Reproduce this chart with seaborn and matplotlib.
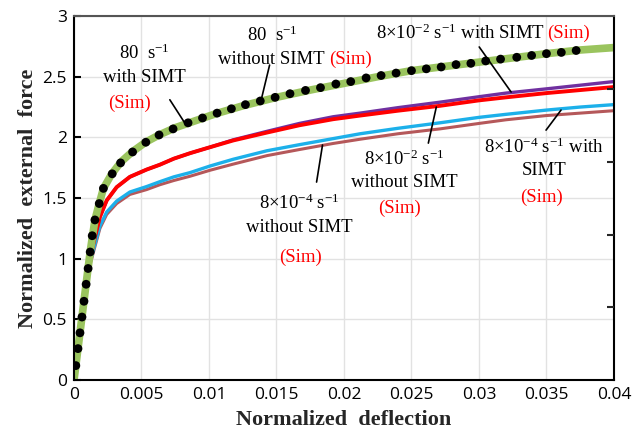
import matplotlib
matplotlib.use("Agg")
import matplotlib.pyplot as plt
import seaborn as sns
import numpy as np

# ---------------- data ----------------
x_curve = [0, 0.0006, 0.0011, 0.00131, 0.00155, 0.00192, 0.00242, 0.00316, 0.00414,
           0.00538, 0.00636, 0.0074, 0.0086, 0.0101, 0.0118, 0.0143, 0.0167, 0.0192,
           0.0212, 0.0240, 0.0271, 0.0300, 0.0320, 0.0350, 0.0375, 0.0400]
red_8e2_without = [0, 0.53, 0.95, 1.06, 1.18, 1.345, 1.48, 1.59, 1.675, 1.735, 1.775, 1.825,
                   1.87, 1.92, 1.975, 2.04, 2.10, 2.15, 2.18, 2.22, 2.26, 2.305, 2.33,
                   2.365, 2.39, 2.415]
purple_8e2_with = [0, 0.53, 0.95, 1.06, 1.18, 1.345, 1.48, 1.59, 1.675, 1.735, 1.775, 1.825,
                   1.87, 1.92, 1.98, 2.05, 2.115, 2.17, 2.20, 2.245, 2.29, 2.335, 2.365,
                   2.40, 2.43, 2.46]
cyan_8e4_with = [0, 0.53, 0.93, 1.02, 1.12, 1.27, 1.385, 1.475, 1.55, 1.595, 1.635, 1.675,
                 1.71, 1.765, 1.82, 1.89, 1.94, 1.99, 2.03, 2.075, 2.12, 2.165, 2.19,
                 2.225, 2.25, 2.27]
brown_8e4_without = [0, 0.52, 0.92, 1.00, 1.10, 1.25, 1.365, 1.455, 1.53, 1.57, 1.61, 1.645,
                     1.68, 1.73, 1.78, 1.85, 1.90, 1.95, 1.985, 2.03, 2.07, 2.115, 2.145,
                     2.18, 2.20, 2.22]

x_green = [0, 0.0006, 0.0012, 0.00155, 0.00187, 0.00218, 0.0028, 0.0035, 0.0043, 0.0053,
           0.0063, 0.0075, 0.0088, 0.0105, 0.0125, 0.015, 0.0175, 0.02, 0.0225, 0.025,
           0.0275, 0.03, 0.0325, 0.035, 0.0375, 0.04]
green_80_with = [0, 0.53, 1.06, 1.32, 1.455, 1.58, 1.70, 1.80, 1.88, 1.96, 2.02, 2.08, 2.13,
                 2.195, 2.26, 2.33, 2.39, 2.445, 2.50, 2.55, 2.585, 2.62, 2.655, 2.69, 2.72,
                 2.74]

x_dots = [0.000136, 0.000295, 0.000443, 0.000591, 0.000739, 0.000898, 0.001045, 0.0012,
          0.00135, 0.00155, 0.00187, 0.00218, 0.00283, 0.00345, 0.00434, 0.00532, 0.0063,
          0.00734, 0.00845, 0.00952, 0.0106, 0.01166, 0.0127, 0.0138, 0.0149, 0.016,
          0.01715, 0.01826, 0.0194, 0.0205, 0.02164, 0.02275, 0.02386, 0.025, 0.0261,
          0.0272, 0.0283, 0.0294, 0.0305, 0.0316, 0.0328, 0.0339, 0.035, 0.0361, 0.0372]
dots_80_without = [0.12, 0.26, 0.39, 0.52, 0.65, 0.79, 0.92, 1.056, 1.19, 1.32, 1.455, 1.58,
                   1.70, 1.79, 1.88, 1.96, 2.02, 2.07, 2.12, 2.16, 2.20, 2.236, 2.27, 2.30,
                   2.33, 2.36, 2.387, 2.41, 2.44, 2.46, 2.49, 2.51, 2.53, 2.55, 2.565, 2.58,
                   2.60, 2.61, 2.63, 2.645, 2.66, 2.675, 2.69, 2.70, 2.716]

x_ticks = [0, 0.005, 0.01, 0.015, 0.02, 0.025, 0.03, 0.035, 0.04]
x_tick_labels = ["0", "0.005", "0.01", "0.015", "0.02", "0.025", "0.03", "0.035", "0.04"]
y_ticks = [0, 0.5, 1, 1.5, 2, 2.5, 3]
y_tick_labels = ["0", "0.5", "1", "1.5", "2", "2.5", "3"]

# ---------------- style ----------------
sns.set_style("white")
plt.rcParams["mathtext.fontset"] = "custom"
plt.rcParams["mathtext.rm"] = "Liberation Serif"
plt.rcParams["mathtext.it"] = "Liberation Serif:italic"
plt.rcParams["mathtext.bf"] = "Liberation Serif:bold"
plt.rcParams["font.family"] = ["Open Sans", "DejaVu Sans"]

fig = plt.figure(figsize=(6.39, 4.40), dpi=100)
ax = fig.add_axes([0.1158, 0.136, 0.845, 0.8276])

c_green = "#9ac45e"
c_red = "#ff0000"
c_purple = "#7030a0"
c_cyan = "#1cb0ea"
c_brown = "#b5585a"

sns.lineplot(x=x_curve, y=brown_8e4_without, ax=ax, color=c_brown, lw=2.2, estimator=None)
sns.lineplot(x=x_curve, y=cyan_8e4_with, ax=ax, color=c_cyan, lw=2.4, estimator=None)
sns.lineplot(x=x_curve, y=purple_8e2_with, ax=ax, color=c_purple, lw=2.4, estimator=None)
sns.lineplot(x=x_curve, y=red_8e2_without, ax=ax, color=c_red, lw=2.8, estimator=None)
sns.lineplot(x=x_green, y=green_80_with, ax=ax, color=c_green, lw=5.5, estimator=None)
sns.scatterplot(x=x_dots, y=dots_80_without, ax=ax, color="black", s=40, edgecolor="none",
                zorder=5)

ax.set_xlim(0, 0.04)
ax.set_ylim(0, 3)
ax.set_xticks(x_ticks)
ax.set_xticklabels(x_tick_labels)
ax.set_yticks(y_ticks)
ax.set_yticklabels(y_tick_labels)
ax.grid(True, color="#e2e2e2", lw=1.0)
ax.set_axisbelow(True)
ax.tick_params(axis="both", direction="in", length=5, width=1.5, labelsize=12.5,
               colors="black", pad=5)
for sp in ax.spines.values():
    sp.set_visible(True)
    sp.set_color("black")
    sp.set_linewidth(1.5)
ax.spines["top"].set_color("#555555")

# right-side ticks
ax2 = ax.twinx()
ax2.set_ylim(0, 3)
ax2.set_yticks([0.6, 1.2, 1.8, 2.4])
ax2.tick_params(axis="y", direction="in", length=5, width=1.5, labelright=False)
for sp in ax2.spines.values():
    sp.set_visible(False)

serif = "Liberation Serif"
ax.set_xlabel("Normalized  deflection", fontfamily=serif, fontweight="bold", fontsize=16,
              labelpad=5)
ax.set_ylabel("Normalized  external  force", fontfamily=serif, fontweight="bold",
              fontsize=16, labelpad=3)

fs = 13.5
def t(x, y, s, color="black", ha="center"):
    ax.text(x, y, s, fontfamily=serif, fontsize=fs, color=color, ha=ha, va="center",
            zorder=10)

def leader(x0, y0, x1, y1):
    ax.plot([x0, x1], [y0, y1], color="black", lw=1.2, zorder=6)

# 80 s-1 with SIMT
t(0.00525, 2.69, r"80  s$^{-1}$")
t(0.00525, 2.49, "with SIMT")
t(0.00414, 2.28, "(Sim)", color="red")
leader(0.0071, 2.31, 0.0082, 2.12)

# 80 s-1 without SIMT
t(0.01471, 2.84, r"80  s$^{-1}$")
t(0.01464, 2.645, "without SIMT")
t(0.01893, 2.645, "(Sim)", color="red", ha="left")
leader(0.01449, 2.596, 0.0139, 2.324)

# 8e-2 with SIMT
t(0.0224, 2.86, r"8×10$^{-2}$ s$^{-1}$ with SIMT", ha="left")
t(0.03505, 2.86, "(Sim)", color="red", ha="left")
leader(0.03002, 2.745, 0.03238, 2.374)

# 8e-2 without SIMT
t(0.02447, 1.82, r"8×10$^{-2}$ s$^{-1}$")
t(0.02447, 1.63, "without SIMT")
t(0.0241, 1.418, "(Sim)", color="red")
leader(0.02684, 2.25, 0.02625, 1.953)

# 8e-4 with SIMT
t(0.03482, 1.92, r"8×10$^{-4}$ s$^{-1}$ with")
t(0.03482, 1.73, "SIMT")
t(0.03460, 1.508, "(Sim)", color="red")
leader(0.03608, 2.225, 0.03497, 2.06)

# 8e-4 without SIMT
t(0.01671, 1.459, r"8×10$^{-4}$ s$^{-1}$")
t(0.01671, 1.261, "without SIMT")
t(0.01680, 1.014, "(Sim)", color="red")
leader(0.01841, 1.937, 0.01797, 1.632)

fig.savefig("out.png", dpi=100)
